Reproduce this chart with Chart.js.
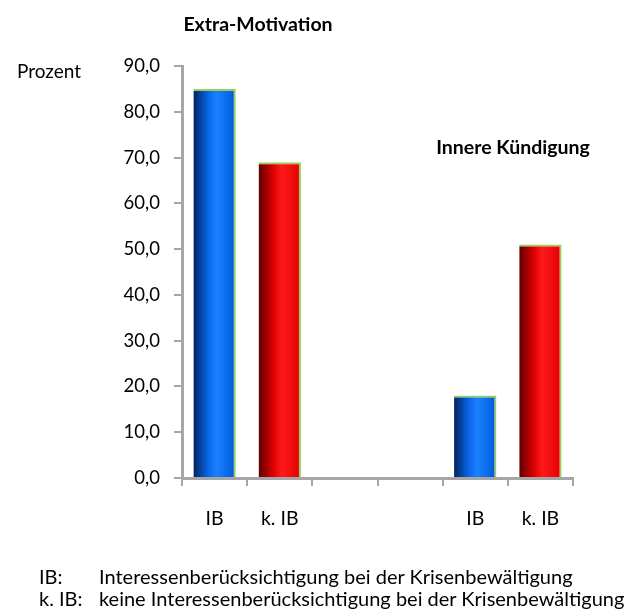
<!DOCTYPE html>
<html>
<head>
<meta charset="utf-8">
<script src="https://cdn.jsdelivr.net/npm/chart.js@4"></script>
<style>
  body { margin: 0; background: #fff; font-family: Lato, "Open Sans", sans-serif; }
  #wrap { position: relative; width: 625px; height: 615px; }
  #chart { position: absolute; left: 0; top: 0; }
  .txt { position: absolute; white-space: nowrap; color: #000; font-size: 19px; line-height: 1; }
  .b { font-weight: bold; font-size: 19.5px; }
  .note { font-size: 20px; }
</style>
</head>
<body>
<div id="wrap">
  <canvas id="chart" width="625" height="615"></canvas>
  <div class="txt b" style="left:258px; top:24px; transform:translate(-50%,-50%);">Extra-Motivation</div>
  <div class="txt b" style="left:513px; top:147px; transform:translate(-50%,-50%);">Innere Kündigung</div>
  <div class="txt" style="left:17px; top:70px; transform:translateY(-50%);">Prozent</div>
  <div class="txt note" style="left:39px; top:576px; transform:translateY(-50%);">IB:</div>
  <div class="txt note" style="left:99px; top:576px; transform:translateY(-50%);">Interessenberücksichtigung bei der Krisenbewältigung</div>
  <div class="txt note" style="left:39px; top:598px; transform:translateY(-50%);">k. IB:</div>
  <div class="txt note" style="left:99px; top:598px; transform:translateY(-50%);">keine Interessenberücksichtigung bei der Krisenbewältigung</div>
</div>
<script>
// data
const labels = ['IB', 'k. IB', '', '', 'IB', 'k. IB'];
const values = [85, 69, null, null, 18, 51];
const yTicks = [0, 10, 20, 30, 40, 50, 60, 70, 80, 90];

const blueStops = ['#00245e', '#0a66e8', '#1a82ff', '#0058d6'];
const redStops = ['#5e0000', '#dd0000', '#ff1a1a', '#e00000'];

const barPct = 0.65;

function barFill(ctx) {
  const chart = ctx.chart;
  const xs = chart.scales.x;
  const stops = labels[ctx.dataIndex] === 'IB' ? blueStops : redStops;
  if (!xs || !chart.chartArea) return stops[1];
  const cw = xs.width / labels.length;
  const cx = xs.getPixelForValue(ctx.dataIndex);
  const w = cw * barPct;
  const g = chart.ctx.createLinearGradient(cx - w / 2, 0, cx + w / 2, 0);
  g.addColorStop(0, stops[0]);
  g.addColorStop(0.35, stops[1]);
  g.addColorStop(0.55, stops[2]);
  g.addColorStop(1, stops[3]);
  return g;
}

const config = {
  type: 'bar',
  data: {
    labels: labels,
    datasets: [{
      data: values,
      backgroundColor: barFill,
      borderColor: '#9acd5a',
      borderWidth: { top: 2, right: 2, left: 0, bottom: 0 },
      borderSkipped: false,
      barPercentage: barPct,
      categoryPercentage: 1.0
    }]
  },
  options: {
    responsive: false,
    animation: false,
    layout: { padding: { top: 66, right: 52, left: 0, bottom: 0 } },
    plugins: {
      legend: { display: false },
      title: { display: false },
      tooltip: { enabled: false }
    },
    scales: {
      x: {
        afterFit: s => { s.height = 137; },
        grid: {
          drawOnChartArea: false,
          color: '#a6a6a6',
          lineWidth: 2,
          tickLength: 8,
          offset: true
        },
        border: { color: '#a6a6a6', width: 3 },
        ticks: {
          color: '#000',
          padding: 21,
          font: { family: 'Lato', size: 19.5 }
        }
      },
      y: {
        min: 0,
        max: 90,
        afterFit: s => { s.width = 182; },
        afterBuildTicks: s => { s.ticks = yTicks.map(v => ({ value: v })); },
        grid: {
          drawOnChartArea: false,
          color: '#a6a6a6',
          lineWidth: 2,
          tickLength: 8
        },
        border: { color: '#a6a6a6', width: 3 },
        ticks: {
          color: '#000',
          padding: 14,
          font: { family: 'Lato', size: 18.5 },
          callback: v => v.toFixed(1).replace('.', ',')
        }
      }
    }
  }
};

const chart = new Chart(document.getElementById('chart'), config);
</script>
</body>
</html>
